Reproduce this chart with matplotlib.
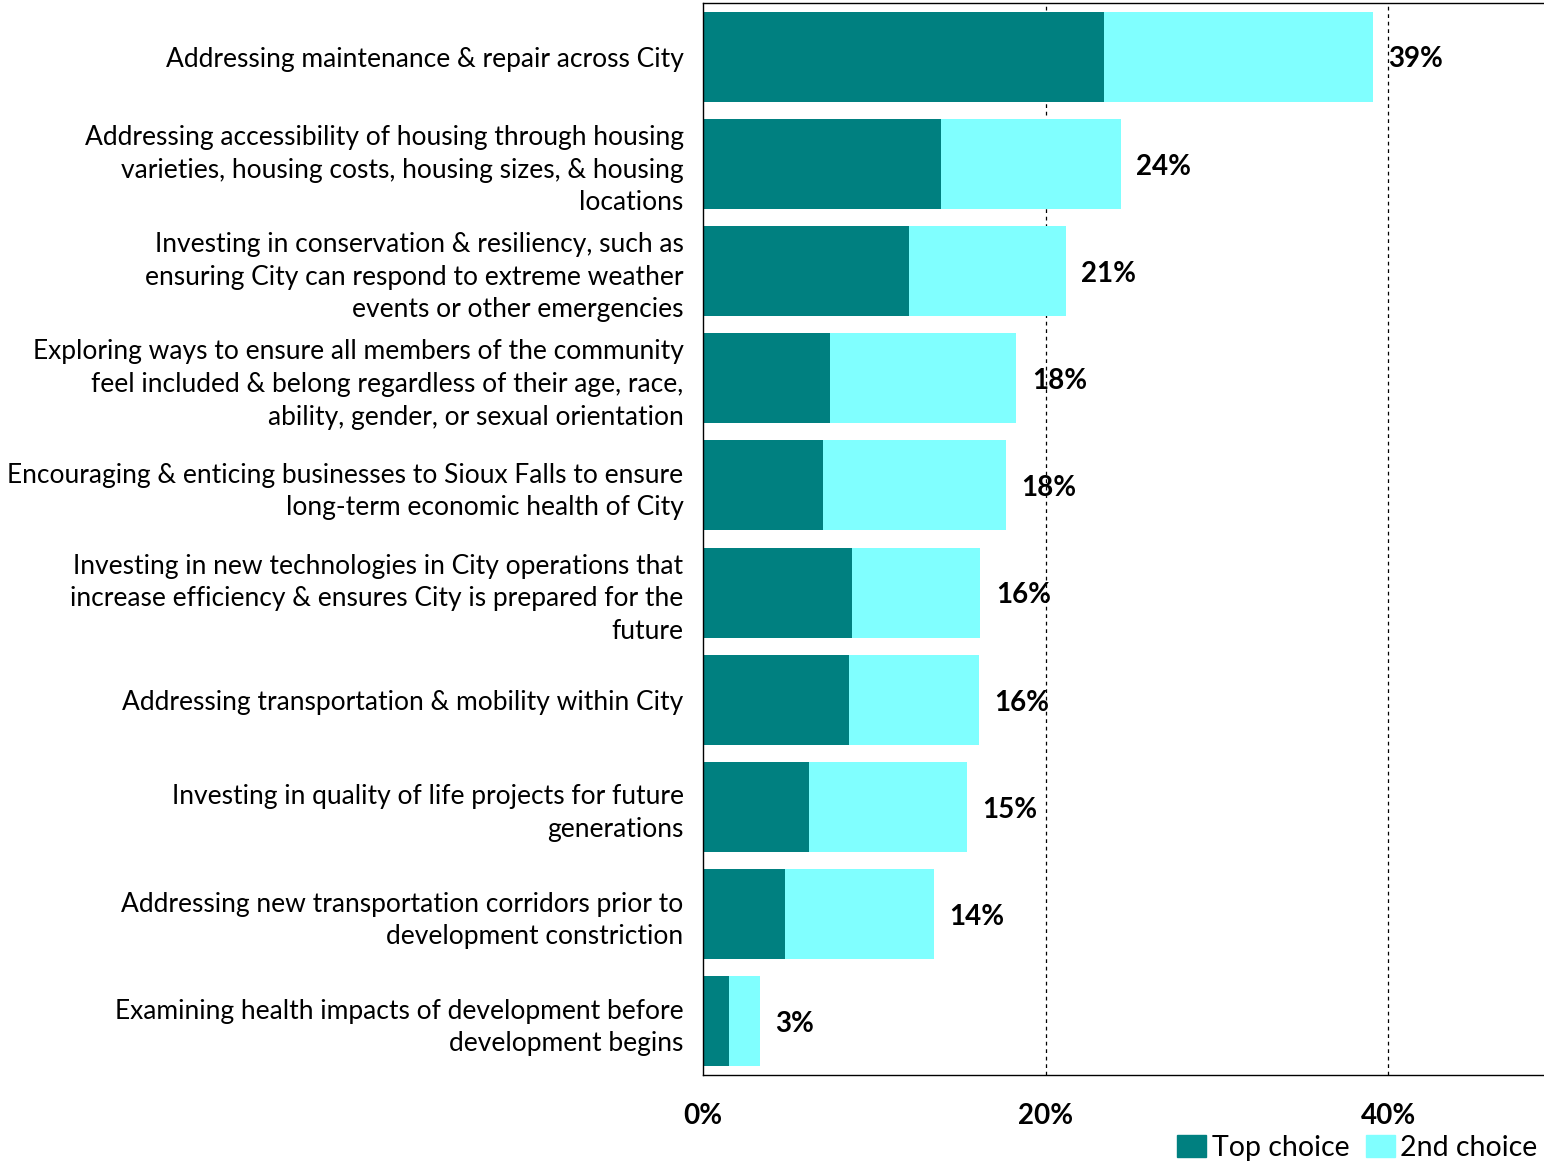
import matplotlib
matplotlib.use("Agg")
import matplotlib.pyplot as plt
from matplotlib.patches import Patch

plt.rcParams["font.family"] = ["Lato", "DejaVu Sans"]

categories = [
    "Addressing maintenance & repair across City",
    "Addressing accessibility of housing through housing\nvarieties, housing costs, housing sizes, & housing\nlocations",
    "Investing in conservation & resiliency, such as\nensuring City can respond to extreme weather\nevents or other emergencies",
    "Exploring ways to ensure all members of the community\nfeel included & belong regardless of their age, race,\nability, gender, or sexual orientation",
    "Encouraging & enticing businesses to Sioux Falls to ensure\nlong-term economic health of City",
    "Investing in new technologies in City operations that\nincrease efficiency & ensures City is prepared for the\nfuture",
    "Addressing transportation & mobility within City",
    "Investing in quality of life projects for future\ngenerations",
    "Addressing new transportation corridors prior to\ndevelopment constriction",
    "Examining health impacts of development before\ndevelopment begins",
]
top_choice = [23.4, 13.9, 12.0, 7.4, 7.0, 8.7, 8.5, 6.2, 4.8, 1.5]
second_choice = [15.7, 10.5, 9.2, 10.9, 10.7, 7.5, 7.6, 9.2, 8.7, 1.8]
total_labels = ["39%", "24%", "21%", "18%", "18%", "16%", "16%", "15%", "14%", "3%"]
xticks = [0, 20, 40]
xtick_labels = ["0%", "20%", "40%"]

TEAL = "#008080"
CYAN = "#80FFFF"

fig = plt.figure(figsize=(15.44, 11.63), dpi=100)
ax = fig.add_axes([0.4553, 0.0757, 0.5447, 0.9217])

y = list(range(len(categories)))
ax.barh(y, top_choice, height=0.84, color=TEAL)
ax.barh(y, second_choice, left=top_choice, height=0.84, color=CYAN)

for yi, a, b, lbl in zip(y, top_choice, second_choice, total_labels):
    ax.annotate(lbl, (a + b, yi), xytext=(11, -2), textcoords="offset points",
                ha="left", va="center", fontsize=20, fontweight="bold")

ax.set_ylim(len(categories) - 0.5, -0.5)
ax.set_xlim(0, 49.1)
ax.set_yticks(y)
ax.set_yticklabels(categories, fontsize=19, multialignment="right", linespacing=1.38)
ax.set_xticks(xticks)
ax.set_xticklabels(xtick_labels, fontsize=20, fontweight="bold")
ax.tick_params(axis="y", length=0, pad=14)
ax.tick_params(axis="x", length=0, pad=20)

for xv in xticks[1:]:
    ax.axvline(xv, color="black", linestyle=(0, (3, 3)), linewidth=0.9, zorder=0)

ax.spines["right"].set_visible(False)
for s in ["left", "top", "bottom"]:
    ax.spines[s].set_color("black")
    ax.spines[s].set_linewidth(1.0)

handles = [Patch(color=TEAL, label="Top choice"), Patch(color=CYAN, label="2nd choice")]
fig.legend(handles=handles, loc="lower right", bbox_to_anchor=(1.007, -0.013), ncol=2,
           frameon=False, fontsize=20.5, handlelength=1.0, handleheight=0.8,
           handletextpad=0.2, columnspacing=0.6, borderpad=0.1)

fig.savefig("out.png", dpi=100)
